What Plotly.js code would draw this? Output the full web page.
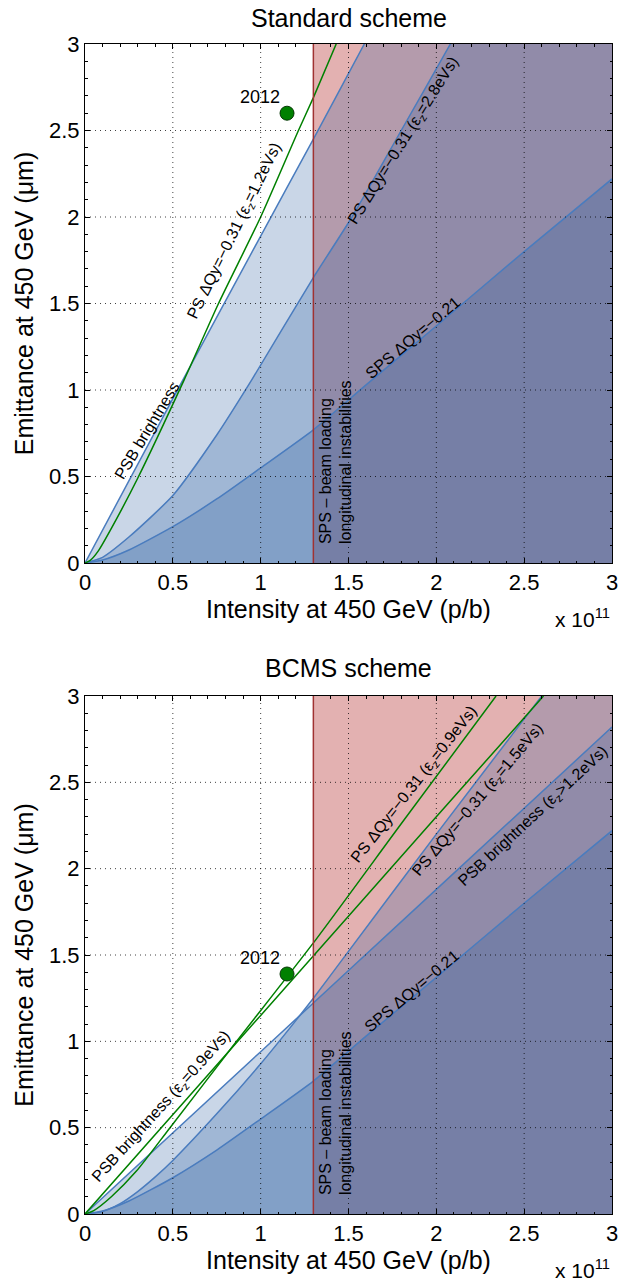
<!DOCTYPE html>
<html><head><meta charset="utf-8">
<script src="https://cdn.plot.ly/plotly-3.0.1.min.js"></script>
<style>html,body{margin:0;padding:0;background:#fff;} #chart{width:629px;height:1282px;}</style>
</head><body><div id="chart"></div>
<script>
// ---------------- data ----------------
const axisTicks  = [0, 0.5, 1, 1.5, 2, 2.5, 3];
const tickLabels = ['0', '0.5', '1', '1.5', '2', '2.5', '3'];
const sbLimit = [1.3];                 // SPS beam loading intensity limit (1e11 p/b)

// SPS ΔQy = -0.21 (same in both schemes)
const spsN   = [0, 0.1, 0.25, 0.5, 0.75, 1.0, 1.3, 1.6, 2.0, 2.5, 3.0];
const spsEps = [0, 0.017, 0.075, 0.21, 0.37, 0.55, 0.77, 1.03, 1.37, 1.80, 2.22];

// Standard scheme
const stdPsbN    = [0, 0.5, 1.0, 1.3, 1.59, 3.0];
const stdPsbEps  = [0, 0.95, 1.89, 2.45, 3.0, 5.67];
const stdPs28N   = [0, 0.1, 0.25, 0.5, 0.75, 0.95, 1.3, 1.52, 1.8, 2.08, 2.5, 3.0];
const stdPs28Eps = [0, 0.033, 0.15, 0.39, 0.74, 1.06, 1.65, 2.0, 2.5, 3.0, 3.75, 4.65];
const stdPs12N   = [0, 0.03, 0.076, 0.15, 0.3, 0.565, 0.76, 1.0, 1.215, 1.3, 1.43];
const stdPs12Eps = [0, 0.015, 0.07, 0.2, 0.49, 1.06, 1.5, 2.0, 2.5, 2.69, 3.0];

// BCMS scheme
const bcmsPsb12N   = [0, 1, 2, 3];
const bcmsPsb12Eps = [0, 0.94, 1.88, 2.82];
const bcmsPs15N    = [0, 0.1, 0.2, 0.3, 0.4, 0.5, 0.75, 1.0, 1.2, 1.3, 1.455, 2.0, 2.6, 3.0];
const bcmsPs15Eps  = [0, 0.015, 0.06, 0.13, 0.215, 0.31, 0.58, 0.87, 1.12, 1.25, 1.46, 2.2, 3.0, 3.53];
const bcmsPsb09N   = [0, 1, 2, 2.61];
const bcmsPsb09Eps = [0, 1.15, 2.3, 3.0];
const bcmsPs09N    = [0, 0.05, 0.15, 0.294, 0.484, 0.863, 1.3, 1.8, 2.34];
const bcmsPs09Eps  = [0, 0.02, 0.1, 0.25, 0.5, 1.0, 1.57, 2.26, 3.0];

// 2012 operational points
const year2012N    = [1.15];
const stdYearEps   = [2.6];
const bcmsYearEps  = [1.39];

// ---------------- styling ----------------
const FONT = 'Liberation Sans, Arial, Helvetica, sans-serif';
const BLUE_FILL = 'rgba(40,90,160,0.25)';
const BLUE_LINE = 'rgb(74,124,190)';
const GREEN = 'rgb(0,128,0)';
const RED_LINE = 'rgb(160,50,50)';
const PINK = 'rgb(227,177,177)';

function fillTrace(x, y, xa, ya) {
  return {x: x, y: y, xaxis: xa, yaxis: ya, mode: 'none', fill: 'tozeroy',
          fillcolor: BLUE_FILL, hoverinfo: 'skip', showlegend: false};
}
function lineTrace(x, y, xa, ya, color) {
  return {x: x, y: y, xaxis: xa, yaxis: ya, mode: 'lines',
          line: {color: color, width: 1.5, shape: 'spline', smoothing: 0.6},
          hoverinfo: 'skip', showlegend: false};
}
function pointTrace(x, y, xa, ya) {
  return {x: x, y: y, xaxis: xa, yaxis: ya, mode: 'markers',
          marker: {size: 14, color: GREEN, line: {color: '#063806', width: 1}},
          hoverinfo: 'skip', showlegend: false};
}

const data = [
  // Standard scheme (top)
  fillTrace(stdPsbN, stdPsbEps, 'x', 'y'),
  fillTrace(stdPs28N, stdPs28Eps, 'x', 'y'),
  fillTrace(spsN, spsEps, 'x', 'y'),
  lineTrace(stdPsbN, stdPsbEps, 'x', 'y', BLUE_LINE),
  lineTrace(stdPs28N, stdPs28Eps, 'x', 'y', BLUE_LINE),
  lineTrace(spsN, spsEps, 'x', 'y', BLUE_LINE),
  lineTrace(stdPs12N, stdPs12Eps, 'x', 'y', GREEN),
  pointTrace(year2012N, stdYearEps, 'x', 'y'),
  // BCMS scheme (bottom)
  fillTrace(bcmsPsb12N, bcmsPsb12Eps, 'x2', 'y2'),
  fillTrace(bcmsPs15N, bcmsPs15Eps, 'x2', 'y2'),
  fillTrace(spsN, spsEps, 'x2', 'y2'),
  lineTrace(bcmsPsb12N, bcmsPsb12Eps, 'x2', 'y2', BLUE_LINE),
  lineTrace(bcmsPs15N, bcmsPs15Eps, 'x2', 'y2', BLUE_LINE),
  lineTrace(spsN, spsEps, 'x2', 'y2', BLUE_LINE),
  lineTrace(bcmsPsb09N, bcmsPsb09Eps, 'x2', 'y2', GREEN),
  lineTrace(bcmsPs09N, bcmsPs09Eps, 'x2', 'y2', GREEN),
  pointTrace(year2012N, bcmsYearEps, 'x2', 'y2')
];

const W = 629, H = 1282;
const xDom = [85 / W, 612 / W];
const yDomTop = [1 - 563 / H, 1 - 44 / H];
const yDomBot = [1 - 1214 / H, 1 - 696 / H];
const axMax = axisTicks[axisTicks.length - 1];

function axisCfg(extra) {
  return Object.assign({
    range: [axisTicks[0], axMax], tickmode: 'array', tickvals: axisTicks, ticktext: tickLabels,
    ticks: 'inside', ticklen: 5, tickwidth: 1, tickcolor: '#000',
    showline: true, linecolor: '#000', linewidth: 1, mirror: 'ticks',
    showgrid: false, zeroline: false, layer: 'above traces', fixedrange: true,
    tickfont: {family: FONT, size: 22, color: '#000'},
    minor: {tick0: 0, dtick: 0.1, ticks: 'inside', ticklen: 2.5, tickwidth: 1, tickcolor: '#000', showgrid: false}
  }, extra);
}
const xTitle = {text: 'Intensity at 450 GeV (p/b)', font: {family: FONT, size: 25, color: '#000'}, standoff: 4};
const yTitle = {text: 'Emittance at 450 GeV (\u03bcm)', font: {family: FONT, size: 25, color: '#000'}, standoff: 8};

const layout = {
  width: W, height: H, autosize: false,
  margin: {l: 0, r: 0, t: 0, b: 0},
  paper_bgcolor: '#fff', plot_bgcolor: '#fff',
  font: {family: FONT, color: '#000'},
  showlegend: false,
  xaxis:  axisCfg({domain: xDom, anchor: 'y', title: xTitle}),
  yaxis:  axisCfg({domain: yDomTop, anchor: 'x', title: yTitle}),
  xaxis2: axisCfg({domain: xDom, anchor: 'y2', title: xTitle}),
  yaxis2: axisCfg({domain: yDomBot, anchor: 'x2', title: yTitle}),
  shapes: [],
  annotations: []
};

// pink SPS beam loading region + limit line, dotted grid on top
[['x', 'y'], ['x2', 'y2']].forEach(function (p) {
  const xa = p[0], ya = p[1];
  layout.shapes.push({type: 'rect', xref: xa, yref: ya + ' domain', x0: sbLimit[0], x1: axMax, y0: 0, y1: 1,
                      fillcolor: PINK, line: {width: 0}, layer: 'below'});
  axisTicks.slice(1, -1).forEach(function (t) {
    layout.shapes.push({type: 'line', xref: xa, yref: ya + ' domain', x0: t, x1: t, y0: 0, y1: 1,
                        line: {color: 'rgba(0,0,0,0.75)', width: 1, dash: '1px,4px'}, layer: 'above'});
    layout.shapes.push({type: 'line', xref: xa + ' domain', yref: ya, x0: 0, x1: 1, y0: t, y1: t,
                        line: {color: 'rgba(0,0,0,0.75)', width: 1, dash: '1px,4px'}, layer: 'above'});
  });
  layout.shapes.push({type: 'line', xref: xa, yref: ya + ' domain', x0: sbLimit[0], x1: sbLimit[0], y0: 0, y1: 1,
                      line: {color: RED_LINE, width: 1.5}, layer: 'above'});
});

function lab(text, xa, ya, x, y, ang, extra) {
  return Object.assign({text: text, xref: xa, yref: ya, x: x, y: y, textangle: ang, showarrow: false,
    xanchor: 'center', yanchor: 'middle', font: {family: FONT, size: 16, color: '#000'}}, extra || {});
}
const eps = '\u03b5<sub>z</sub>';
const dq = 'PS \u0394Qy=\u22120.31 (';
layout.annotations.push(
  // titles
  {text: 'Standard scheme', xref: 'paper', yref: 'paper', x: (xDom[0] + xDom[1]) / 2, y: 1 - 18 / H,
   xanchor: 'center', yanchor: 'middle', showarrow: false, font: {family: FONT, size: 25, color: '#000'}},
  {text: 'BCMS scheme', xref: 'paper', yref: 'paper', x: (xDom[0] + xDom[1]) / 2, y: 1 - 668 / H,
   xanchor: 'center', yanchor: 'middle', showarrow: false, font: {family: FONT, size: 25, color: '#000'}},
  // x 10^11
  {text: 'x 10<sup>11</sup>', xref: 'x domain', yref: 'y domain', x: 1, y: 0, xanchor: 'right', yanchor: 'top',
   yshift: -40, showarrow: false, font: {family: FONT, size: 21, color: '#000'}},
  {text: 'x 10<sup>11</sup>', xref: 'x2 domain', yref: 'y2 domain', x: 1, y: 0, xanchor: 'right', yanchor: 'top',
   yshift: -40, showarrow: false, font: {family: FONT, size: 21, color: '#000'}},
  // top labels
  lab('PSB brightness', 'x', 'y', 0.353, 0.765, -59),
  lab(dq + eps + '=1.2eVs)', 'x', 'y', 0.855, 1.92, -64),
  lab(dq + eps + '=2.8eVs)', 'x', 'y', 1.813, 2.445, -58),
  lab('SPS \u0394Qy=\u22120.21', 'x', 'y', 1.867, 1.303, -40),
  lab('SPS \u2013 beam loading<br>longitudinal instabilities', 'x', 'y', sbLimit[0], 0.1, -90,
      {xanchor: 'left', yanchor: 'bottom', xshift: 1, align: 'left'}),
  lab('2012', 'x', 'y', year2012N[0], stdYearEps[0], 0,
      {xanchor: 'right', yanchor: 'bottom', xshift: -5, yshift: 4, font: {family: FONT, size: 18, color: '#000'}}),
  // bottom labels
  lab('PSB brightness (' + eps + '=0.9eVs)', 'x2', 'y2', 0.4365, 0.621, -48),
  lab(dq + eps + '=0.9eVs)', 'x2', 'y2', 1.875, 2.49, -52),
  lab(dq + eps + '=1.5eVs)', 'x2', 'y2', 2.24, 2.40, -50),
  lab('PSB brightness (' + eps + '&gt;1.2eVs)', 'x2', 'y2', 2.553, 2.30, -43),
  lab('SPS \u0394Qy=\u22120.21', 'x2', 'y2', 1.864, 1.293, -40),
  lab('SPS \u2013 beam loading<br>longitudinal instabilities', 'x2', 'y2', sbLimit[0], 0.1, -90,
      {xanchor: 'left', yanchor: 'bottom', xshift: 1, align: 'left'}),
  lab('2012', 'x2', 'y2', year2012N[0], bcmsYearEps[0], 0,
      {xanchor: 'right', yanchor: 'bottom', xshift: -5, yshift: 4, font: {family: FONT, size: 18, color: '#000'}})
);

Plotly.newPlot('chart', data, layout, {staticPlot: true, displayModeBar: false});
</script>
</body></html>
